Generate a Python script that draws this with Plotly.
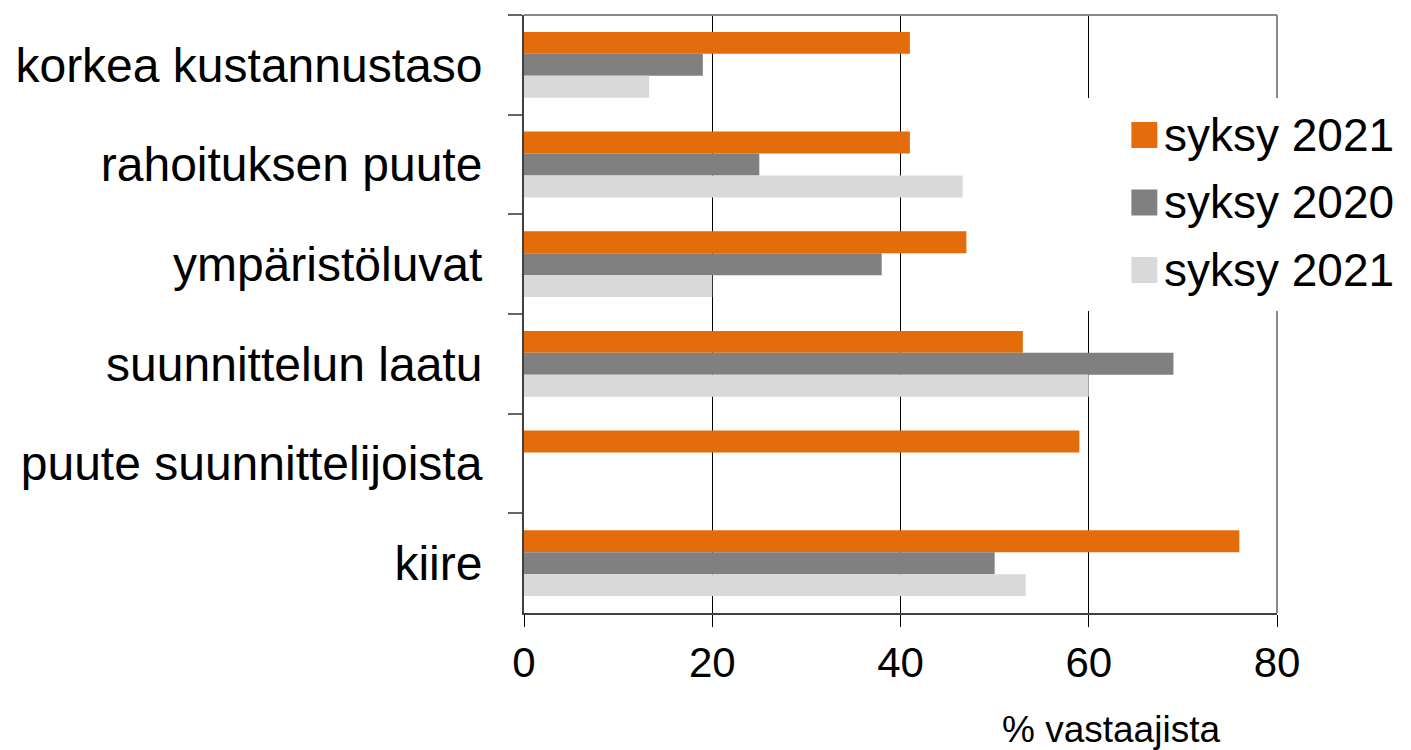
import plotly.graph_objects as go

# categories listed top to bottom, as in the chart
categories = [
    "korkea kustannustaso",
    "rahoituksen puute",
    "ympäristöluvat",
    "suunnittelun laatu",
    "puute suunnittelijoista",
    "kiire",
]
series_names = ["syksy 2021", "syksy 2020", "syksy 2021"]
values_orange = [41, 41, 47, 53, 59, 76]
values_gray = [19, 25, 38, 69, None, 50]
values_light = [13.3, 46.6, 20, 60, None, 53.3]
x_ticks = [0, 20, 40, 60, 80]
axis_title = "% vastaajista"

colors = ["#E46C0A", "#808080", "#D9D9D9"]
FONT = "Liberation Sans, Arial, sans-serif"

# the page body adds an 8px margin, so the figure is 8px smaller than the window
OFF = 8
W, H = 1411 - OFF, 750 - OFF
L, R, T, B = 522 - OFF, 134, 15 - OFF, 137


def px_x(p):
    # screen pixel -> paper coordinate
    return (p - OFF - L) / (W - L - R)


def px_y(p):
    return (H - B - (p - OFF)) / (H - T - B)


fig = go.Figure()
for name, vals, col in zip(series_names, [values_orange, values_gray, values_light], colors):
    fig.add_trace(go.Bar(
        y=categories, x=vals, name=name, orientation="h",
        marker=dict(color=col, line=dict(width=0)),
        showlegend=False,
    ))

shapes = [
    # top and right frame
    dict(type="line", xref="paper", yref="paper", x0=0, x1=1, y0=1, y1=1,
         line=dict(color="#888888", width=2), layer="above"),
    dict(type="line", xref="paper", yref="paper", x0=1, x1=1, y0=0, y1=1,
         line=dict(color="#888888", width=2), layer="above"),
    # legend background
    dict(type="rect", xref="paper", yref="paper", x0=px_x(1080), x1=px_x(1411),
         y0=px_y(311), y1=px_y(98), fillcolor="white", line=dict(width=0), layer="above"),
]
annotations = []
row_y = [135, 202.5, 270]
for name, col, ry in zip(series_names, colors, row_y):
    shapes.append(dict(type="rect", xref="paper", yref="paper",
                       x0=px_x(1131), x1=px_x(1157), y0=px_y(ry + 13), y1=px_y(ry - 13),
                       fillcolor=col, line=dict(width=0), layer="above"))
    annotations.append(dict(text=name, xref="paper", yref="paper", x=px_x(1162), y=px_y(ry),
                            xanchor="left", yanchor="middle", showarrow=False,
                            font=dict(family=FONT, size=46, color="black")))
annotations.append(dict(text=axis_title, xref="paper", yref="paper", x=px_x(1111), y=px_y(729),
                        xanchor="center", yanchor="middle", showarrow=False,
                        font=dict(family=FONT, size=37, color="black")))

fig.update_layout(
    width=W, height=H,
    margin=dict(l=L, r=R, t=T, b=B),
    paper_bgcolor="white", plot_bgcolor="white",
    barmode="group", bargap=0.34, bargroupgap=0,
    font=dict(family=FONT, color="black"),
    xaxis=dict(
        range=[0, 80], tickvals=x_ticks, showgrid=True, gridcolor="black", gridwidth=1,
        zeroline=False, showline=True, linecolor="#404040", linewidth=2,
        ticks="outside", ticklen=12, tickcolor="black", tickwidth=1,
        tickfont=dict(family=FONT, size=42, color="black"), ticklabelstandoff=0,
    ),
    yaxis=dict(
        autorange="reversed", showgrid=False, zeroline=False,
        showline=True, linecolor="#404040", linewidth=2,
        ticks="outside", tickson="boundaries", ticklen=14, tickcolor="#666666", tickwidth=2,
        tickfont=dict(family=FONT, size=48, color="black"), ticklabelstandoff=30,
    ),
    shapes=shapes,
    annotations=annotations,
)

fig.write_html("out.html")
